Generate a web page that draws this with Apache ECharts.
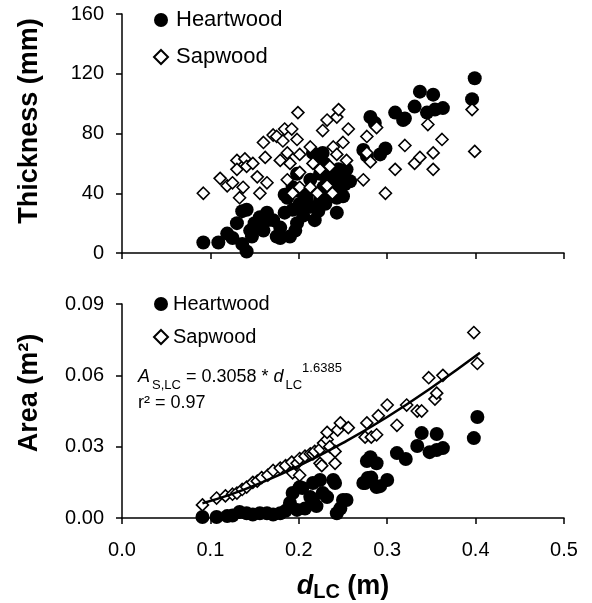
<!DOCTYPE html>
<html>
<head>
<meta charset="utf-8">
<script src="https://cdn.jsdelivr.net/npm/echarts@6/dist/echarts.min.js"></script>
<style>html,body{margin:0;padding:0;background:#fff}#c{width:592px;height:603px}</style>
</head>
<body>
<div id="c"></div>
<script>
// ---- data ----
const xTicks = [0.0, 0.1, 0.2, 0.3, 0.4, 0.5];
const thicknessTicks = [0, 40, 80, 120, 160];
const areaTicks = [0.00, 0.03, 0.06, 0.09];
const legendNames = ['Heartwood', 'Sapwood'];

// top panel: thickness (mm) vs d_LC (m)
const heartwoodThickness = [
[0.092,7],[0.109,7],[0.119,13],[0.125,10],[0.130,20],[0.136,28],[0.136,6],[0.141,1],[0.141,29],[0.145,15],
[0.147,11],[0.150,20],[0.156,24],[0.156,17],[0.160,15],[0.164,27],[0.165,22],[0.171,22],[0.175,11],[0.179,17],
[0.179,10],[0.184,27],[0.187,37],[0.184,39],[0.190,11],[0.193,29],[0.193,44],[0.197,42],[0.198,53],[0.198,20],
[0.201,33],[0.205,40],[0.213,31],[0.213,49],[0.216,67],[0.220,60],[0.224,35],[0.224,53],[0.227,67],[0.228,44],
[0.232,48],[0.235,40],[0.239,47],[0.243,27],[0.243,37],[0.247,44],[0.250,51],[0.254,56],[0.258,48],[0.273,69],
[0.277,65],[0.281,91],[0.286,87],[0.292,66],[0.298,70],[0.309,94],[0.318,89],[0.320,90],[0.331,98],[0.337,108],
[0.345,94],[0.352,106],[0.354,96],[0.363,97],[0.396,103],[0.399,117],
[0.196,15],[0.205,25],[0.209,37],[0.218,22],[0.222,28],[0.230,33],[0.236,52],[0.245,56],[0.250,38],[0.229,60],[0.252,46]
];
const sapwoodThickness = [
[0.092,40],[0.111,50],[0.119,45],[0.125,47],[0.130,62],[0.130,56],[0.133,37],[0.137,44],[0.139,63],[0.141,58],
[0.148,60],[0.153,51],[0.160,74],[0.162,64],[0.156,40],[0.164,47],[0.171,79],[0.175,78],[0.179,62],[0.182,75],
[0.184,83],[0.192,83],[0.187,67],[0.190,60],[0.187,49],[0.198,76],[0.199,94],[0.201,66],[0.193,40],[0.201,44],
[0.201,54],[0.213,71],[0.213,44],[0.216,60],[0.221,40],[0.224,56],[0.227,82],[0.232,89],[0.243,91],[0.245,96],
[0.256,83],[0.250,74],[0.239,71],[0.243,66],[0.254,62],[0.232,45],[0.238,40],[0.235,58],[0.273,49],[0.277,78],
[0.277,67],[0.281,61],[0.288,84],[0.298,40],[0.309,56],[0.320,72],[0.331,60],[0.337,64],[0.346,86],[0.352,67],
[0.352,56],[0.362,76],[0.396,96],[0.399,68]
];

// bottom panel: area (m²) vs d_LC (m)
const heartwoodArea = [
[0.091,0.0004],[0.107,0.0004],[0.119,0.0008],[0.125,0.001],[0.133,0.0025],[0.141,0.002],[0.148,0.0015],[0.156,0.002],
[0.164,0.002],[0.171,0.0015],[0.179,0.002],[0.185,0.003],[0.190,0.0063],[0.193,0.0105],[0.198,0.0034],[0.201,0.013],
[0.204,0.0126],[0.207,0.004],[0.213,0.0088],[0.216,0.0147],[0.216,0.0076],[0.220,0.005],[0.224,0.016],[0.227,0.0105],
[0.232,0.0088],[0.239,0.016],[0.241,0.0147],[0.243,0.002],[0.247,0.004],[0.250,0.0076],[0.254,0.0076],[0.273,0.0147],
[0.275,0.0147],[0.277,0.024],[0.278,0.0168],[0.281,0.0256],[0.282,0.017],[0.288,0.023],[0.288,0.013],[0.292,0.0134],
[0.300,0.016],[0.311,0.0273],[0.321,0.0248],[0.334,0.0303],[0.339,0.0357],[0.348,0.0277],[0.356,0.0353],[0.356,0.0286],
[0.363,0.0294],[0.398,0.0336],[0.402,0.0425]
];
const sapwoodArea = [
[0.091,0.0055],[0.107,0.0084],[0.117,0.0093],[0.125,0.010],[0.130,0.0105],[0.136,0.012],[0.141,0.013],[0.148,0.015],
[0.153,0.0155],[0.158,0.017],[0.165,0.018],[0.171,0.020],[0.179,0.021],[0.185,0.022],[0.192,0.0235],[0.193,0.019],
[0.198,0.023],[0.201,0.025],[0.201,0.018],[0.207,0.026],[0.213,0.027],[0.216,0.027],[0.218,0.028],[0.224,0.029],
[0.224,0.023],[0.226,0.022],[0.228,0.0315],[0.232,0.033],[0.232,0.036],[0.235,0.030],[0.241,0.023],[0.241,0.028],
[0.244,0.037],[0.247,0.040],[0.256,0.038],[0.275,0.034],[0.277,0.040],[0.282,0.034],[0.288,0.035],[0.290,0.043],
[0.300,0.0475],[0.311,0.039],[0.322,0.0475],[0.334,0.045],[0.339,0.045],[0.347,0.059],[0.354,0.050],[0.356,0.0525],
[0.363,0.060],[0.398,0.078],[0.402,0.065]
];

// fitted power curve
const fitX = [0.091, 0.12, 0.15, 0.20, 0.25, 0.30, 0.35, 0.405];
const fitY = [0.0062, 0.0095, 0.0137, 0.0219, 0.0316, 0.0425, 0.0548, 0.0695];

// ---- chart ----
const FONT = "'Liberation Sans', Arial, sans-serif";
const AX = {color:'#000', width:1.5};
const chart = echarts.init(document.getElementById('c'), null, {renderer:'canvas'});

function xAxisCfg(grid, showLabels, extra) {
  return Object.assign({
    gridIndex: grid, type:'value', min: xTicks[0], max: xTicks[xTicks.length-1], interval: 0.1,
    axisLine:{show:true, onZero:false, lineStyle:AX},
    axisTick:{show:true, inside:false, length:6, lineStyle:AX},
    axisLabel:{show:showLabels, fontSize:20, color:'#000', fontFamily:FONT, margin:22,
      formatter: v => v.toFixed(1)},
    splitLine:{show:false}
  }, extra || {});
}
function yAxisCfg(grid, ticks, fmt) {
  return {
    gridIndex: grid, type:'value', min: ticks[0], max: ticks[ticks.length-1],
    interval: ticks[1]-ticks[0],
    axisLine:{show:true, onZero:false, lineStyle:AX},
    axisTick:{show:true, inside:false, length:6, lineStyle:AX},
    axisLabel:{fontSize:20, color:'#000', fontFamily:FONT, margin:18, formatter: fmt},
    splitLine:{show:false}
  };
}

const hwStyle = {symbol:'circle', symbolSize:14, itemStyle:{color:'#000', opacity:1, borderWidth:0}};
const swStyle = {symbol:'diamond', symbolSize:12, itemStyle:{color:'#fff', opacity:1, borderColor:'#000', borderWidth:1.6}};

chart.setOption({
  animation:false,
  backgroundColor:'#fff',
  grid:[
    {left:122, top:14, width:442, height:239, outerBoundsMode:'none', containLabel:false},
    {left:122, top:304, width:442, height:214, outerBoundsMode:'none', containLabel:false}
  ],
  xAxis:[
    xAxisCfg(0, false),
    xAxisCfg(1, true, {
      name:'{bi|d}{bs|LC}{b| (m)}', nameLocation:'middle', nameGap:54,
      nameTextStyle:{ rich:{
        bi:{fontSize:27, fontWeight:'bold', fontStyle:'italic', fontFamily:FONT, color:'#000', lineHeight:30},
        bs:{fontSize:20, fontWeight:'bold', fontFamily:FONT, color:'#000', lineHeight:22, verticalAlign:'bottom'},
        b:{fontSize:27, fontWeight:'bold', fontFamily:FONT, color:'#000', lineHeight:30}
      }}
    })
  ],
  yAxis:[
    yAxisCfg(0, thicknessTicks, v => String(v)),
    yAxisCfg(1, areaTicks, v => v.toFixed(2))
  ],
  legend:[
    {orient:'vertical', left:153, top:9, padding:0, itemWidth:14, itemHeight:14, itemGap:15,
     data:[{name:legendNames[0], icon:'circle'},{name:legendNames[1], icon:'diamond'}],
     textStyle:{fontSize:22, lineHeight:22, color:'#000', fontFamily:FONT, padding:[0,0,0,3]},
     selectedMode:false},
    {orient:'vertical', left:153, top:294, padding:0, itemWidth:14, itemHeight:14, itemGap:13,
     data:[{name:legendNames[0], icon:'circle'},{name:legendNames[1], icon:'diamond'}],
     textStyle:{fontSize:20, lineHeight:20, color:'#000', fontFamily:FONT, padding:[0,0,0,0]},
     selectedMode:false}
  ],
  graphic:[
    {type:'text', x:30, y:121, rotation:Math.PI/2,
     style:{text:'Thickness (mm)', fontSize:27, fontWeight:'bold', fontFamily:FONT, fill:'#000',
            align:'center', verticalAlign:'middle'}},
    {type:'text', x:30, y:393, rotation:Math.PI/2,
     style:{text:'Area (m²)', fontSize:27, fontWeight:'bold', fontFamily:FONT, fill:'#000',
            align:'center', verticalAlign:'middle'}},
    {type:'text', x:138, y:377,
     style:{text:'{i|A}{sub|S,LC}{n| = 0.3058 * }{i|d}{sub|LC}{sup|1.6385}',
            verticalAlign:'middle', align:'left',
            rich:{
              n:{fontSize:18, fontFamily:FONT, fill:'#000', lineHeight:30},
              i:{fontSize:18, fontStyle:'italic', fontFamily:FONT, fill:'#000', lineHeight:30},
              sub:{fontSize:13, fontFamily:FONT, fill:'#000', lineHeight:14, verticalAlign:'bottom', padding:[0,0,0,2]},
              sup:{fontSize:13, fontFamily:FONT, fill:'#000', lineHeight:14, verticalAlign:'top'}
            }}},
    {type:'text', x:138, y:403,
     style:{text:'r² = 0.97', fontSize:18, fontFamily:FONT, fill:'#000', verticalAlign:'middle', align:'left'}}
  ],
  series:[
    Object.assign({type:'scatter', name:legendNames[0], xAxisIndex:0, yAxisIndex:0, data:heartwoodThickness, z:2}, hwStyle),
    Object.assign({type:'scatter', name:legendNames[1], xAxisIndex:0, yAxisIndex:0, data:sapwoodThickness, z:3}, swStyle),
    Object.assign({type:'scatter', name:legendNames[0], xAxisIndex:1, yAxisIndex:1, data:heartwoodArea, z:2}, hwStyle),
    Object.assign({type:'scatter', name:legendNames[1], xAxisIndex:1, yAxisIndex:1, data:sapwoodArea, z:3}, swStyle),
    {type:'line', name:'fit', xAxisIndex:1, yAxisIndex:1, data: fitX.map((x,i)=>[x, fitY[i]]),
     smooth:true, showSymbol:false, symbol:'none', lineStyle:{color:'#000', width:2.5}, z:4, silent:true}
  ]
});
</script>
</body>
</html>
